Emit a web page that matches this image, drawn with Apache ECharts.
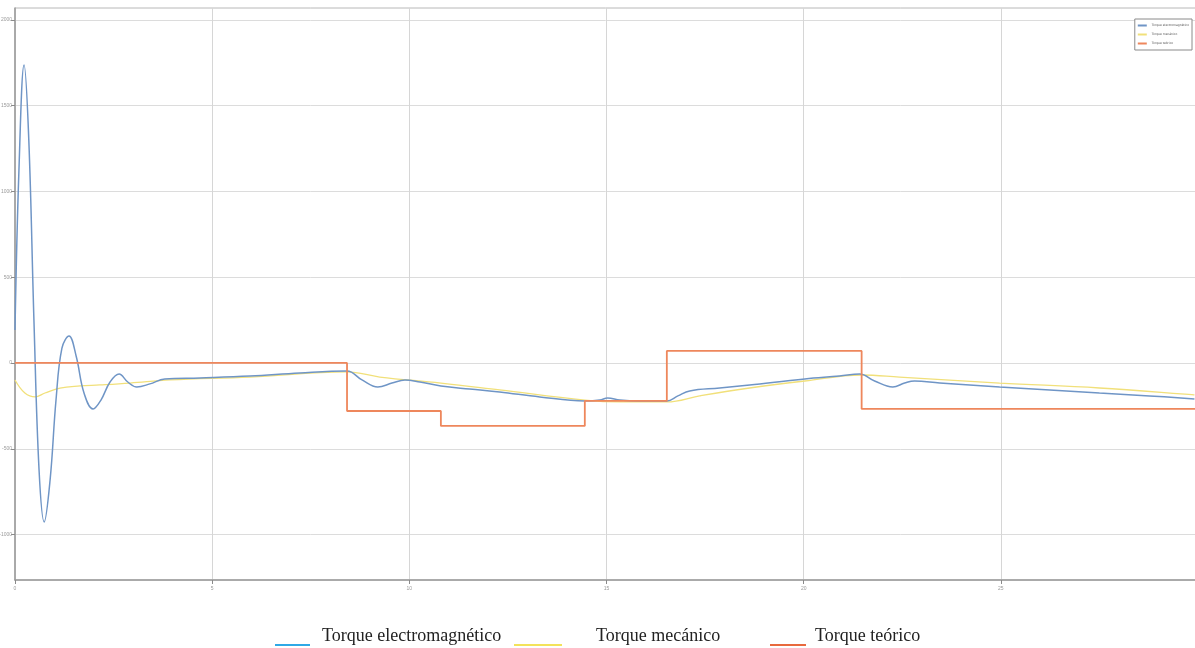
<!DOCTYPE html>
<html>
<head>
<meta charset="utf-8">
<script src="https://cdn.jsdelivr.net/npm/echarts@6/dist/echarts.min.js"></script>
<style>
  html, body { margin: 0; padding: 0; background: #ffffff; }
  #chart { width: 1195px; height: 648px; }
</style>
</head>
<body>
<div id="chart"></div>
<script>
// Series names
const seriesNames = ['Torque electromagnético', 'Torque mecánico', 'Torque teórico'];

// Axis ticks
const xTicks = [0, 5, 10, 15, 20, 25, 30];
const yTicks = [-1000, -500, 0, 500, 1000, 1500, 2000];

// Torque electromagnético (time, value)
const tElec = [0, 0.10, 0.23, 0.35, 0.48, 0.61, 0.74, 0.89, 1.04, 1.19, 1.37, 1.55, 1.75, 1.98, 2.18, 2.41, 2.64, 2.86, 3.09, 3.42, 3.80, 4.69, 5.96, 7.22, 8.42, 8.80, 9.20, 9.56, 9.89, 10.27, 10.80, 11.53, 12.29, 13.31, 14.45, 14.83, 15.03, 15.34, 15.84, 16.53, 16.81, 17.11, 17.87, 18.63, 20.03, 20.91, 21.42, 21.80, 22.26, 22.56, 22.81, 23.45, 24.97, 26.24, 27.50, 28.77, 29.91];
const vElec = [192, 1125, 1737, 1300, 251, -624, -927, -682, -216, 87, 157, 41, -175, -268, -216, -111, -64, -111, -140, -122, -93, -87, -76, -58, -47, -99, -140, -117, -99, -111, -134, -152, -169, -198, -221, -216, -204, -216, -221, -221, -192, -163, -146, -128, -93, -76, -64, -105, -140, -117, -105, -117, -140, -157, -175, -192, -210];

// Torque mecánico (time, value)
const tMec = [0, 0.25, 0.51, 0.76, 1.14, 1.65, 2.15, 2.92, 3.93, 5.96, 8.42, 9.25, 10.80, 12.29, 14.45, 15.34, 16.53, 17.36, 18.63, 20.03, 21.47, 22.43, 24.97, 27.50, 29.91];
const vMec = [-99, -175, -198, -175, -146, -134, -128, -117, -99, -82, -52, -82, -117, -157, -216, -227, -227, -192, -146, -105, -70, -82, -117, -146, -186];

// Torque teórico: piecewise constant, value held until the next change time
const tTeo = [0, 8.42, 10.80, 14.45, 16.53, 21.47, 30];
const vTeo = [0, -280, -367, -221, 70, -268, -268];

const zip = (xs, ys) => xs.map((x, i) => [x, ys[i]]);

const lineColors = ['#6f95c6', '#f1e07a', '#ee875c'];
const legendColors = ['#2fa9e6', '#f3e35a', '#e8693d'];

// Underline-style legend icon: a short bar sitting below the text's middle
function underlineIcon(w) {
  return 'path://M0,0L0.01,0L0.01,0.01Z M0,17L' + w + ',17L' + w + ',19L0,19Z';
}

// Bottom legend entries: one component each so their spacing can be set
function bottomLegend(i, left, iconW, textGap) {
  return {
    left: left,
    top: 627,
    padding: 0,
    orient: 'horizontal',
    icon: underlineIcon(iconW),
    itemWidth: iconW,
    itemHeight: 19,
    selectedMode: false,
    data: [{ name: seriesNames[i], itemStyle: { color: legendColors[i] } }],
    textStyle: {
      fontFamily: 'Liberation Serif',
      fontSize: 18,
      color: '#222',
      padding: [0, 0, 0, textGap]
    }
  };
}

const chart = echarts.init(document.getElementById('chart'), null, { renderer: 'canvas' });

chart.setOption({
  animation: false,
  backgroundColor: '#ffffff',
  grid: {
    left: 15,
    right: -3,
    top: 8,
    bottom: 68,
    outerBoundsMode: 'none',
    containLabel: false,
    show: true,
    borderColor: '#b8b8b8',
    borderWidth: 1
  },
  legend: [
    bottomLegend(0, 275, 35, 7),
    bottomLegend(1, 514, 48, 29),
    bottomLegend(2, 770, 36, 4),
    {
      right: 3,
      top: 19,
      orient: 'vertical',
      icon: 'rect',
      itemWidth: 9,
      itemHeight: 2,
      itemGap: 6,
      padding: [5, 3, 5, 3],
      backgroundColor: '#ffffff',
      borderColor: '#8a8a8a',
      borderWidth: 1,
      selectedMode: false,
      data: seriesNames,
      textStyle: { fontFamily: 'DejaVu Sans', fontSize: 3, color: '#555' }
    }
  ],
  xAxis: {
    type: 'value',
    min: 0,
    max: 30,
    interval: 5,
    axisLine: { show: true, onZero: false, lineStyle: { color: '#9a9a9a', width: 1.5 } },
    axisTick: { show: true, inside: false, length: 4, lineStyle: { color: '#8a8a8a' } },
    axisLabel: {
      fontSize: 5,
      color: '#9a9a9a',
      margin: 6,
      formatter: v => (xTicks.indexOf(v) >= 0 ? String(v) : '')
    },
    splitLine: { show: true, lineStyle: { color: '#d6d6d6', width: 1 } }
  },
  yAxis: {
    type: 'value',
    min: -1265,
    max: 2069,
    axisLine: { show: true, onZero: false, lineStyle: { color: '#9a9a9a', width: 1.5 } },
    axisTick: { show: true, length: 4, customValues: yTicks, lineStyle: { color: '#8a8a8a' } },
    axisLabel: {
      fontSize: 5,
      color: '#9a9a9a',
      margin: 3,
      customValues: yTicks,
      formatter: v => String(v)
    },
    splitLine: { show: true, lineStyle: { color: '#dcdcdc', width: 1 } }
  },
  series: [
    {
      name: seriesNames[1],
      type: 'line',
      data: zip(tMec, vMec),
      smooth: 0.4,
      showSymbol: false,
      z: 2,
      itemStyle: { color: lineColors[1] },
      lineStyle: { color: lineColors[1], width: 1.3 }
    },
    {
      name: seriesNames[0],
      type: 'line',
      data: zip(tElec, vElec),
      smooth: 0.4,
      showSymbol: false,
      z: 3,
      itemStyle: { color: lineColors[0] },
      lineStyle: { color: lineColors[0], width: 1.5 }
    },
    {
      name: seriesNames[2],
      type: 'line',
      data: zip(tTeo, vTeo),
      step: 'end',
      showSymbol: false,
      z: 4,
      itemStyle: { color: lineColors[2] },
      lineStyle: { color: lineColors[2], width: 1.8 }
    }
  ]
});
</script>
</body>
</html>
